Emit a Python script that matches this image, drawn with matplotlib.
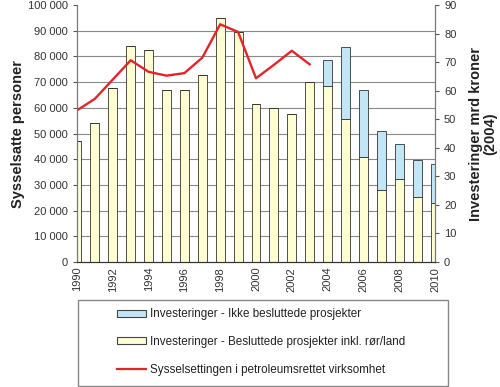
import numpy as np
import matplotlib.pyplot as plt
from matplotlib.patches import Rectangle, Patch
from matplotlib.lines import Line2D
from matplotlib.ticker import FuncFormatter

plt.rcParams['font.family'] = ['Liberation Sans', 'DejaVu Sans']

# Data
years = np.arange(1990, 2011)
besluttede = [42.3, 48.6, 61.0, 75.6, 74.3, 60.3, 60.3, 65.4, 85.5, 80.4,
              55.3, 53.9, 51.9, 62.9, 61.6, 50.1, 36.6, 25.3, 29.2, 22.8, 20.8]
ikke_besluttede = [0, 0, 0, 0, 0, 0, 0, 0, 0, 0,
                   0, 0, 0, 0.3, 9.0, 25.3, 23.6, 20.6, 12.2, 13.0, 13.5]
line_years = np.arange(1990, 2004)
sysselsatte = [59000, 63500, 71000, 78500, 74000, 72500, 73500, 79500, 92500,
               89500, 71500, 76700, 82200, 76900]

labels = ['Investeringer - Ikke besluttede prosjekter',
          'Investeringer - Besluttede prosjekter inkl. rør/land',
          'Sysselsettingen i petroleumsrettet virksomhet']

yellow = '#FFFDD2'
blue = '#C2E6F6'
red = '#E3242B'
tick_col = '#333333'

fig = plt.figure(figsize=(5.0, 3.87), dpi=100)
ax = fig.add_axes([77/500, 1-262/387, (435-77)/500, (262-5)/387])
ax2 = ax.twinx()

# Bars on the right axis
ax2.bar(years, besluttede, width=0.5, color=yellow, edgecolor='#333333', linewidth=0.6, zorder=2)
ax2.bar(years, ikke_besluttede, width=0.5, bottom=besluttede, color=blue,
        edgecolor='#333333', linewidth=0.6, zorder=2)
ax2.set_ylim(0, 90)
ax2.set_yticks(np.arange(0, 91, 10))
# gridlines follow the left axis ticks (every 10 000 = 9 on the right scale)
ax2.set_yticks(np.arange(0, 91, 9), minor=True)
ax2.tick_params(axis='y', which='minor', length=0)
ax2.grid(axis='y', which='minor', color='#8a8a8a', linewidth=0.8, zorder=0)
ax2.set_axisbelow(True)

# Line on the left axis, drawn on top
ax.set_zorder(ax2.get_zorder() + 1)
ax.patch.set_visible(False)
ax.plot(line_years, sysselsatte, color=red, linewidth=1.7)
ax.set_ylim(0, 100000)
ax.set_yticks(np.arange(0, 100001, 10000))
ax.yaxis.set_major_formatter(FuncFormatter(lambda v, p: f'{int(v):,}'.replace(',', ' ')))
ax.set_xlim(1990, 2010)
ax.set_xticks(np.arange(1990, 2011, 2))

for a in (ax, ax2):
    a.spines['top'].set_visible(False)
    a.spines['left'].set_color('#777777')
    a.spines['right'].set_color('#777777')
    a.spines['bottom'].set_color('#333333')
    a.tick_params(labelsize=8, colors='#555555', labelcolor=tick_col, length=3)

ax.tick_params(axis='x', which='both', length=0, labelrotation=90)

ax.set_ylabel('Sysselsatte personer', fontsize=10.5, fontweight='bold', color='#222222', labelpad=2)
ax2.set_ylabel('Investeringer mrd kroner\n(2004)', fontsize=10.5, fontweight='bold',
               color='#222222', labelpad=9, linespacing=1.0)

# Legend box
fig.patches.append(Rectangle((78/500, 1-386/387), 370/500, 86/387, transform=fig.transFigure,
                             facecolor='white', edgecolor='#888888', linewidth=1.0))
handles = [Patch(facecolor=blue, edgecolor='#444444', linewidth=0.8),
           Patch(facecolor=yellow, edgecolor='#444444', linewidth=0.8),
           Line2D([], [], color=red, linewidth=1.6)]
fig.legend(handles, labels, loc='center left', bbox_to_anchor=(111/500, 1-342/387),
           frameon=False, fontsize=8.4, handlelength=2.5, handleheight=0.55,
           handletextpad=0.3, labelspacing=1.35, borderpad=0, labelcolor='#222222')

fig.savefig('out.png', dpi=100)
